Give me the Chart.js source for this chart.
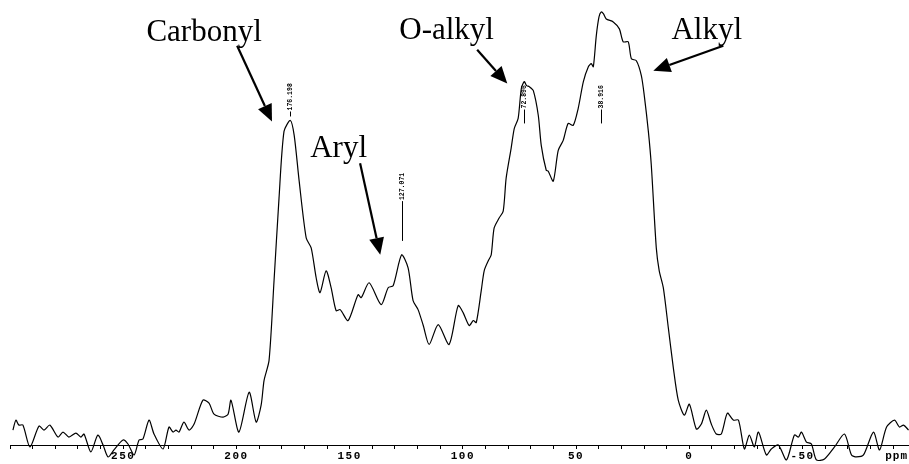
<!DOCTYPE html>
<html lang="en">
<head>
  <meta charset="UTF-8" />
  <title>13C NMR spectrum</title>
  <script src="https://cdn.jsdelivr.net/npm/chart.js"></script>
  <style>
    body {
      margin: 0;
      background: #ffffff;
    }
    #wrap {
      width: 909px;
      height: 464px;
    }
  </style>
</head>
<body>
  <div id="wrap"><canvas id="nmrChart" width="909" height="464"></canvas></div>

  <script>
    // chemical shift (ppm), high to low, and signal intensity (arbitrary units)
    const shifts = [
      298.7, 297.4, 296.1, 294.3, 291.2, 287.2, 285.0, 282.4, 278.8, 276.6,
      274.0, 270.9, 268.7, 267.3, 264.3, 261.2, 258.9, 256.7, 254.1, 250.1,
      247.9, 245.2, 243.0, 241.3, 238.6, 236.4, 232.4, 229.8, 228.0, 226.7,
      225.4, 223.2, 220.9, 218.7, 214.8, 212.1, 209.9, 205.9, 203.7, 202.4,
      198.9, 194.4, 191.3, 189.1, 187.8, 185.6, 183.4, 181.2, 179.0, 176.198,
      174.5, 172.3, 169.2, 167.0, 164.8, 163.1, 160.4, 158.2, 156.0, 154.2,
      150.7, 146.3, 144.9, 141.4, 136.1, 133.0, 130.8, 127.071, 124.2, 122.0,
      119.8, 117.5, 114.9, 110.9, 106.1, 102.1, 99.9, 97.2, 95.4, 94.1,
      91.9, 90.6, 88.8, 87.5, 86.2, 84.0, 82.2, 80.9, 78.7, 77.3,
      75.6, 74.2, 72.896, 71.9, 70.7, 68.9, 66.7, 65.4, 63.2, 62.3,
      60.1, 57.9, 55.7, 53.5, 51.3, 49.1, 46.8, 44.6, 43.3, 42.4,
      41.1, 39.9, 38.916, 37.9, 36.7, 33.6, 30.9, 29.2, 27.0, 25.6,
      23.4, 21.2, 19.9, 18.1, 16.8, 14.6, 13.3, 11.5, 9.3, 7.1,
      4.9, 2.2, 0, -3.1, -5.3, -7.5, -9.7, -11.9, -14.1, -16.8,
      -19.4, -21.7, -24.3, -26.5, -28.7, -30.5, -34.0, -36.2, -39.3, -42.9,
      -46.4, -48.2, -49.5, -51.7, -53.9, -56.1, -59.7, -64.1, -68.5, -71.6,
      -73.8, -76.9, -81.3, -84.0, -87.1, -90.6, -92.8, -94.6, -96.8
    ];
    const intensity = [
      15, 25, 20, 20, -2, 19, 15, 20, 8, 13,
      8, 12, 8, 11, -7, 10, 0, -12, -5, 5,
      1, -10, 5, 6, 25, 11, -4, 18, 13, 15,
      13, 23, 15, 21, 45, 42, 31, 28, 31, 45,
      13, 53, 23, 40, 65, 85, 165, 248, 315, 326,
      311, 265, 208, 198, 168, 153, 175, 158, 135, 136,
      125, 151, 148, 163, 141, 158, 160, 191, 178, 145,
      136, 120, 101, 121, 101, 140, 133, 120, 125, 123,
      155, 175, 185, 191, 218, 228, 235, 268, 298, 318,
      328, 358, 365, 361, 360, 356, 331, 301, 276, 275,
      265, 296, 306, 323, 321, 338, 365, 380, 383, 380,
      411, 430, 435, 433, 428, 425, 418, 405, 405, 388,
      386, 371, 351, 315, 281, 198, 175, 158, 118, 78,
      45, 30, 41, 16, 21, 35, 21, 11, 11, 32,
      25, 25, -4, 10, -2, 13, -10, -4, 0, -15,
      10, 8, 13, 3, 1, -15, -14, -2, 11, -10,
      -12, -10, 13, -5, 18, 25, 18, 20, 15
    ];

    // picked peaks
    const peakShifts = [176.198, 127.071, 72.896, 38.916];
    const peakLabels = ['176.198', '127.071', '72.896', '38.916'];

    // carbon regions
    const regionNames = ['Carbonyl', 'Aryl', 'O-alkyl', 'Alkyl'];

    // axis
    const axisLabels = [250, 200, 150, 100, 50, 0, -50];
    const axisMin = -97;
    const axisMax = 300;
    const axisStep = 10;

    // where the region names and arrows sit (ppm, intensity)
    const regionPlacement = [
      { ppm: 214.3, at: 406, tail: [199.7, 401], tip: [184.3, 325] },
      { ppm: 154.9, at: 289, tail: [145.4, 283], tip: [136.5, 191] },
      { ppm: 107.2, at: 408, tail: [93.7, 397], tip: [80.4, 363] },
      { ppm: -7.7, at: 408, tail: [-15.0, 401], tip: [15.9, 376] }
    ];
    // bottom of each vertical peak label and end of its marker line
    const peakPlacement = [
      { textBase: 336, lineEnd: 330 },
      { textBase: 246, lineEnd: 205 },
      { textBase: 338, lineEnd: 323 },
      { textBase: 338, lineEnd: 323 }
    ];

    const points = shifts.map((s, i) => ({ x: s, y: intensity[i] }));

    function drawArrow(ctx, x1, y1, x2, y2) {
      const ang = Math.atan2(y2 - y1, x2 - x1);
      const headLen = 17, headHalf = 7.5;
      const bx = x2 - headLen * Math.cos(ang);
      const by = y2 - headLen * Math.sin(ang);
      ctx.beginPath();
      ctx.moveTo(x1, y1);
      ctx.lineTo(bx, by);
      ctx.stroke();
      ctx.beginPath();
      ctx.moveTo(x2, y2);
      ctx.lineTo(bx + headHalf * Math.sin(ang), by - headHalf * Math.cos(ang));
      ctx.lineTo(bx - headHalf * Math.sin(ang), by + headHalf * Math.cos(ang));
      ctx.closePath();
      ctx.fill();
    }

    const spectrumMarks = {
      id: 'spectrumMarks',
      beforeDraw(chart) {
        // spaced-out digits on the ppm axis
        chart.ctx.letterSpacing = '1.5px';
      },
      beforeDatasetsDraw(chart) {
        chart.ctx.letterSpacing = '0px';
      },
      afterDatasetsDraw(chart) {
        const { ctx, scales: { x, y } } = chart;
        ctx.save();
        ctx.fillStyle = '#000';
        ctx.strokeStyle = '#000';

        // peak markers with rotated shift values
        peakShifts.forEach((p, i) => {
          const px = Math.round(x.getPixelForValue(p)) + 0.5;
          const yText = y.getPixelForValue(peakPlacement[i].textBase);
          const yEnd = y.getPixelForValue(peakPlacement[i].lineEnd);
          ctx.lineWidth = 1;
          ctx.beginPath();
          ctx.moveTo(px, yText + 1);
          ctx.lineTo(px, yEnd);
          ctx.stroke();
          ctx.save();
          ctx.translate(px, yText);
          ctx.rotate(-Math.PI / 2);
          ctx.font = 'bold 6.5px "Liberation Mono"';
          ctx.textAlign = 'left';
          ctx.textBaseline = 'middle';
          ctx.fillText(peakLabels[i], 0, 0);
          ctx.restore();
        });

        // region names and arrows
        ctx.font = '31px "Liberation Serif"';
        ctx.textAlign = 'center';
        ctx.textBaseline = 'alphabetic';
        ctx.lineWidth = 2.2;
        regionNames.forEach((name, i) => {
          const r = regionPlacement[i];
          ctx.fillText(name, x.getPixelForValue(r.ppm), y.getPixelForValue(r.at));
          drawArrow(ctx,
            x.getPixelForValue(r.tail[0]), y.getPixelForValue(r.tail[1]),
            x.getPixelForValue(r.tip[0]), y.getPixelForValue(r.tip[1]));
        });

        // unit at the end of the axis
        ctx.font = 'bold 11px "Liberation Mono"';
        ctx.letterSpacing = '1px';
        ctx.textAlign = 'right';
        ctx.textBaseline = 'middle';
        ctx.fillText('ppm', x.right - 1, y.bottom + 11);
        ctx.restore();
      }
    };

    new Chart(document.getElementById('nmrChart'), {
      type: 'line',
      data: {
        datasets: [{
          data: points,
          borderColor: '#000000',
          borderWidth: 1.2,
          pointRadius: 0,
          tension: 0.25,
          fill: false,
          clip: false
        }]
      },
      options: {
        responsive: false,
        animation: false,
        events: [],
        layout: { padding: { left: 10, right: 0, top: 0, bottom: 0 } },
        plugins: {
          legend: { display: false },
          tooltip: { enabled: false }
        },
        scales: {
          x: {
            type: 'linear',
            reverse: true,
            min: axisMin,
            max: axisMax,
            afterBuildTicks(axis) {
              const ticks = [];
              for (let v = Math.ceil(axisMin / axisStep) * axisStep; v <= axisMax; v += axisStep) {
                ticks.push({ value: v });
              }
              axis.ticks = ticks;
            },
            ticks: {
              autoSkip: false,
              maxRotation: 0,
              padding: 2,
              color: '#000',
              font: { family: '"Liberation Mono"', size: 11, weight: 'bold', lineHeight: 1 },
              callback: (v) => axisLabels.includes(v) ? String(v) : ''
            },
            grid: {
              display: true,
              drawOnChartArea: false,
              drawTicks: true,
              tickLength: 4,
              color: '#000'
            },
            border: { display: true, color: '#000', width: 1 }
          },
          y: {
            display: false,
            min: 0,
            max: 447
          }
        }
      },
      plugins: [spectrumMarks]
    });
  </script>
</body>
</html>
